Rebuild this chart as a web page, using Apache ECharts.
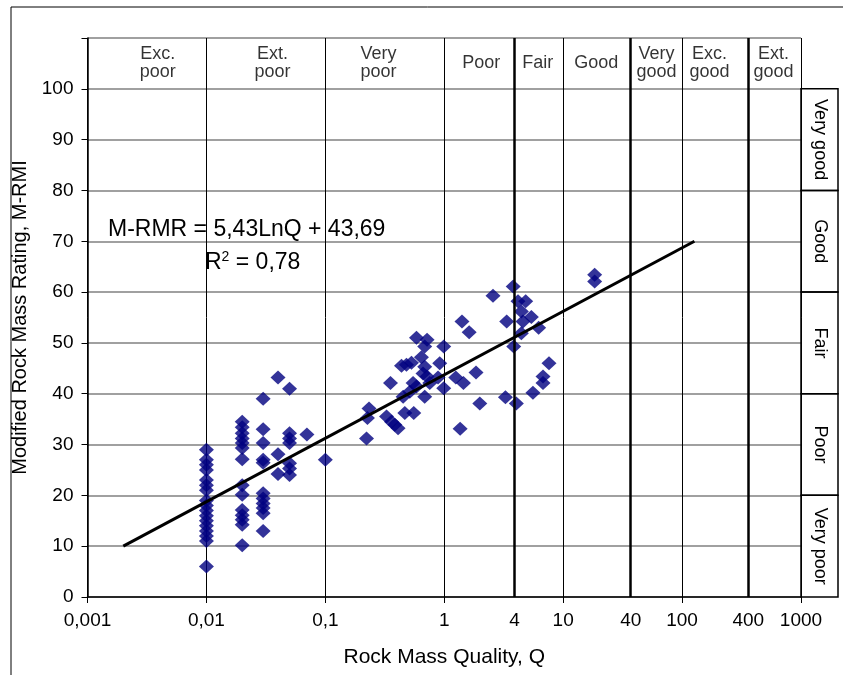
<!DOCTYPE html>
<html>
<head>
<meta charset="utf-8">
<script src="https://cdn.jsdelivr.net/npm/echarts@6/dist/echarts.min.js"></script>
<style>
html,body{margin:0;padding:0;background:#fff;}
#chart{width:843px;height:675px;}
</style>
</head>
<body>
<div id="chart"></div>
<script>
// ---- data ----
const qValues = [
  0.01,0.01,0.01,0.01,0.01,0.01,0.01,0.01,0.01,0.01,0.01,0.01,0.01,0.01,0.01,0.01,0.01,
  0.02,0.02,0.02,0.02,0.02,0.02,0.02,0.02,0.02,0.02,0.02,0.02,0.02,0.02,
  0.03,0.03,0.03,0.03,0.03,0.03,0.03,0.03,0.03,0.03,0.03,
  0.04,0.04,0.04,
  0.05,0.05,0.05,0.05,0.05,0.05,0.05,
  0.07,0.1,
  0.222,0.233,0.226,0.327,0.36,0.384,0.409,0.353,0.437,0.481,0.53,0.466,0.554,0.584,0.717,0.685,
  0.643,0.685,0.663,0.717,0.547,0.584,0.513,0.451,0.685,0.755,0.916,0.99,0.887,0.99,1.25,1.45,
  1.41,1.62,1.36,1.85,1.99,
  2.57,3.8,3.35,4.17,4.84,4.45,5.4,4.59,6.22,4.45,3.84,3.27,4.04,7.6,6.77,6.77,5.57,18.4,18.4
];
const rmrValues = [
  29,27,26,25,23,22,21,19,18,17,16,15,14,13,12,11,6,
  34.5,33.4,32.2,31.2,30.3,29.3,27.1,22,20.1,17.1,16.1,15.2,14.2,10.2,
  39,33,30.3,27,26.4,20.4,19.4,18.4,17.5,16.5,13,
  43.2,28.1,24.2,
  41,32.2,31.2,30.3,26.3,25.3,24,
  32,27,
  31.2,37.1,35.2,35.5,34.5,33.9,33.2,42.1,45.5,45.7,46.1,36.2,36.2,51,50.6,49.3,
  47.2,45.3,44,43.4,42.1,41.4,40.4,39.4,39.4,42.1,46,49.3,43.2,41.1,43.2,42.1,
  54.2,52.1,33.1,44.2,38.1,
  59.3,61.1,54.2,58.2,58.2,56.2,55.1,54.2,53,51.9,49.3,39.3,38.1,46,43.4,42.1,40.2,63.4,62.1
];
// trend line end points (M-RMR = 5,43LnQ + 43,69)
const trendQ = [0.002, 127];
const trendR = [10, 70];
// Q-system class labels on top
const zoneNames = ['Exc.\npoor','Ext.\npoor','Very\npoor','Poor','Fair','Good','Very\ngood','Exc.\ngood','Ext.\ngood'];
const zoneLabelQ = [0.0039,0.036,0.28,2.05,6.1,19,61,170,587];
const zoneLabelY = 105;
// thick class boundaries
const boundaryQ = [3.9, 37, 360];
const boundaryLabels = ['4','40','400'];
// rating classes on the right
const ratingNames = ['Very poor','Poor','Fair','Good','Very good'];
const ratingBounds = [0,20,40,60,80,100];
const yTicksMax = 110;

const FONT = 'Liberation Sans, Arial, Helvetica, sans-serif';

const chart = echarts.init(document.getElementById('chart'), null, {renderer:'canvas'});

const points = qValues.map((q,i)=>[q, rmrValues[i]]);
const trend = trendQ.map((q,i)=>[q, trendR[i]]);
const zoneData = zoneNames.map((n,i)=>({name:n, value:[zoneLabelQ[i], zoneLabelY]}));

const option = {
  backgroundColor:'#fff',
  animation:false,
  grid:{left:87.5, right:42, top:38, bottom:78, containLabel:false},
  xAxis:{
    type:'log', logBase:10, min:0.001, max:1000,
    axisLine:{show:true, onZero:false, lineStyle:{color:'#000', width:1.5}},
    axisTick:{show:true, inside:false, length:6, lineStyle:{color:'#000', width:1}},
    axisLabel:{color:'#000', fontSize:19, fontFamily:FONT, margin:14,
      formatter:(v)=>String(+v.toPrecision(6)).replace('.',',')},
    splitLine:{show:true, lineStyle:{color:'#000', width:1}},
    minorTick:{show:false}, minorSplitLine:{show:false},
    name:'Rock Mass Quality, Q', nameLocation:'middle', nameGap:50,
    nameTextStyle:{color:'#000', fontSize:21, fontFamily:FONT}
  },
  yAxis:{
    type:'value', min:0, max:yTicksMax, interval:10,
    axisLine:{show:true, lineStyle:{color:'#000', width:1.5}},
    axisTick:{show:true, inside:false, length:6, lineStyle:{color:'#000', width:1}},
    axisLabel:{color:'#000', fontSize:19, fontFamily:FONT, margin:14,
      formatter:(v)=> v>=yTicksMax ? '' : String(v)},
    splitLine:{show:true, lineStyle:{color:'#808080', width:1.5}},
    name:'Modified Rock Mass Rating, M-RMI', nameLocation:'middle', nameGap:52, nameRotate:90,
    nameTextStyle:{color:'#000', fontSize:20, fontFamily:FONT}
  },
  series:[
    {
      type:'scatter', data:points, symbol:'diamond', symbolSize:[15,14],
      itemStyle:{color:'#000080'}, z:3, silent:true
    },
    {
      type:'line', data:trend, symbol:'none', lineStyle:{color:'#000', width:3}, z:4, silent:true
    },
    {
      type:'scatter', data:zoneData, symbolSize:0, silent:true, z:5,
      label:{show:true, position:'inside', formatter:(p)=>p.name, color:'#000',
        fontSize:18, lineHeight:18, fontFamily:FONT, align:'center', verticalAlign:'middle'},
      markLine:{
        silent:true, symbol:'none', animation:false,
        lineStyle:{color:'#000', width:2.5, type:'solid'},
        label:{show:true, position:'start', formatter:(p)=>p.name, color:'#000',
          fontSize:19, fontFamily:FONT, distance:14},
        data: boundaryQ.map((q,i)=>({xAxis:q, name:boundaryLabels[i]}))
      }
    }
  ]
};
chart.setOption(option);

// right-hand rating class box and equation text
const x1000 = chart.convertToPixel({xAxisIndex:0}, 1000);
const boxRight = 838;
const g = [];
for (let i=0;i<ratingNames.length;i++){
  const yb = chart.convertToPixel({yAxisIndex:0}, ratingBounds[i]);
  const yt = chart.convertToPixel({yAxisIndex:0}, ratingBounds[i+1]);
  g.push({type:'rect', shape:{x:x1000, y:yt, width:boxRight-x1000, height:yb-yt},
    style:{fill:'none', stroke:'#000', lineWidth:1.5}, z:10});
  g.push({type:'text', x:(x1000+boxRight)/2, y:(yt+yb)/2, rotation:-Math.PI/2,
    style:{text:ratingNames[i], fontSize:18, fontFamily:FONT, fill:'#000',
      align:'center', verticalAlign:'middle'}, z:11});
}
// outer frame
g.push({type:'polyline', shape:{points:[[11,680],[11,7],[850,7]]},
  style:{stroke:'#000', lineWidth:1, fill:'none'}, z:10});
// equation
g.push({type:'text', x:108, y:230,
  style:{text:'M-RMR = 5,43LnQ + 43,69', fontSize:23, fontFamily:FONT, fill:'#000',
    align:'left', verticalAlign:'middle'}, z:11});
g.push({type:'text', x:205, y:263,
  style:{text:'{a|R}{s|2}{a| = 0,78}', fontFamily:FONT, fill:'#000', align:'left', verticalAlign:'middle',
    rich:{a:{fontSize:23, fontFamily:FONT, fill:'#000'}, s:{fontSize:14, fontFamily:FONT, fill:'#000', verticalAlign:'top', padding:[0,0,11,0]}}}, z:11});
chart.setOption({graphic:g});
</script>
</body>
</html>
